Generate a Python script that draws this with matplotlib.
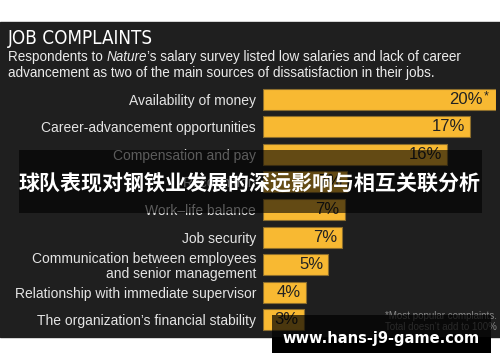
import matplotlib
matplotlib.use('Agg')
import matplotlib.pyplot as plt
from matplotlib.patches import Rectangle

# data
categories = ['Availability of money', 'Career-advancement opportunities',
              'Compensation and pay', 'Recognition', 'Work–life balance',
              'Job security', 'Communication between employees\nand senior management',
              'Relationship with immediate supervisor', "The organization’s financial stability"]
bar_values = [20, 17.8, 15.8, 7.2, 7.0, 6.8, 5.6, 3.7, 3.5]
value_labels = ['20%', '17%', '16%', '7%', '7%', '7%', '5%', '4%', '3%']

title = 'JOB COMPLAINTS'
banner = '球队表现对钢铁业发展的深远影响与相互关联分析'
watermark = 'www.hans-j9-game.com'

W, H = 500, 362
sans = ['Liberation Sans', 'DejaVu Sans']
BG = '#1f1f1f'
BAR = '#f8b932'

fig = plt.figure(figsize=(5, 3.62), dpi=100)
bg = fig.add_axes([0, 0, 1, 1])
bg.set_xlim(0, W)
bg.set_ylim(H, 0)
bg.axis('off')
bg.add_patch(Rectangle((0, 22), W, 315, color=BG, zorder=0))

bg.text(8, 38, title, color='white', fontsize=13.5, family='DejaVu Sans',
        stretch='condensed', va='center', ha='left')
t1 = bg.text(8, 57, 'Respondents to ', color='#ececec', fontsize=9.75,
             family=sans, va='center')
t2 = bg.annotate('Nature', xy=(1, 0), xycoords=t1, va='bottom', color='#ececec',
                 fontsize=9.75, family=sans, style='italic')
bg.annotate('’s salary survey listed low salaries and lack of career', xy=(1, 0),
            xycoords=t2, va='bottom', color='#ececec', fontsize=9.75, family=sans)
bg.text(8, 73, 'advancement as two of the main sources of dissatisfaction in their jobs.',
        color='#ececec', fontsize=9.75, family=sans, va='center')

# bars
x0, x1 = 263, 496
ytop, ybot = 99 - 13.8, 320 + 13.8
ax = fig.add_axes([x0 / W, 1 - ybot / H, (x1 - x0) / W, (ybot - ytop) / H])
ax.set_facecolor('none')
ypos = range(len(categories))
ax.barh(ypos, bar_values, height=0.76, color=BAR, edgecolor='#8c6d2c', linewidth=0.8)
ax.set_xlim(0, 20)
ax.set_ylim(len(categories) - 0.5, -0.5)
ax.set_xticks([])
ax.set_yticks(list(ypos))
ax.set_yticklabels(categories, color='#e4e4e4', fontsize=10, family=sans,
                   linespacing=1.1)
ax.tick_params(axis='y', length=0, pad=5)
for s in ax.spines.values():
    s.set_visible(False)

for i, (v, lab) in enumerate(zip(bar_values, value_labels)):
    off = -13 if i == 0 else -5
    ax.annotate(lab, xy=(v, i), xytext=(off * 0.72, 0), textcoords='offset points',
                ha='right', va='center', color='#222222', fontsize=12, family=sans)
ax.annotate('*', xy=(bar_values[0], 0), xytext=(-5, 1.5), textcoords='offset points',
            ha='right', va='center', color='#222222', fontsize=9, family=sans)

# footnote
bg.text(497, 316, '*Most popular complaints.', color='#8a8a8a', fontsize=7,
        family=sans, ha='right', va='center', zorder=2)
bg.text(497, 327, 'Total doesn’t add to 100%', color='#8a8a8a', fontsize=7,
        family=sans, ha='right', va='center', zorder=2)

# overlays
ov = fig.add_axes([0, 0, 1, 1])
ov.set_xlim(0, W)
ov.set_ylim(H, 0)
ov.axis('off')
ov.add_patch(Rectangle((19, 150), 463, 63, color='black', alpha=0.6, lw=0))
ov.text(250, 183, banner, color='white', fontsize=15.1, weight='bold',
        family=['Noto Sans CJK SC', 'DejaVu Sans'], ha='center', va='center')
ov.add_patch(Rectangle((272, 315), 219, 22, color='black', alpha=0.7, lw=0))
ov.add_patch(Rectangle((272, 337), 219, 16, color='black', lw=0))
ov.text(381, 338, watermark, color='white', fontsize=10.5, weight='bold',
        family='DejaVu Sans', ha='center', va='center')

fig.savefig('out.png', dpi=100, facecolor='white')
